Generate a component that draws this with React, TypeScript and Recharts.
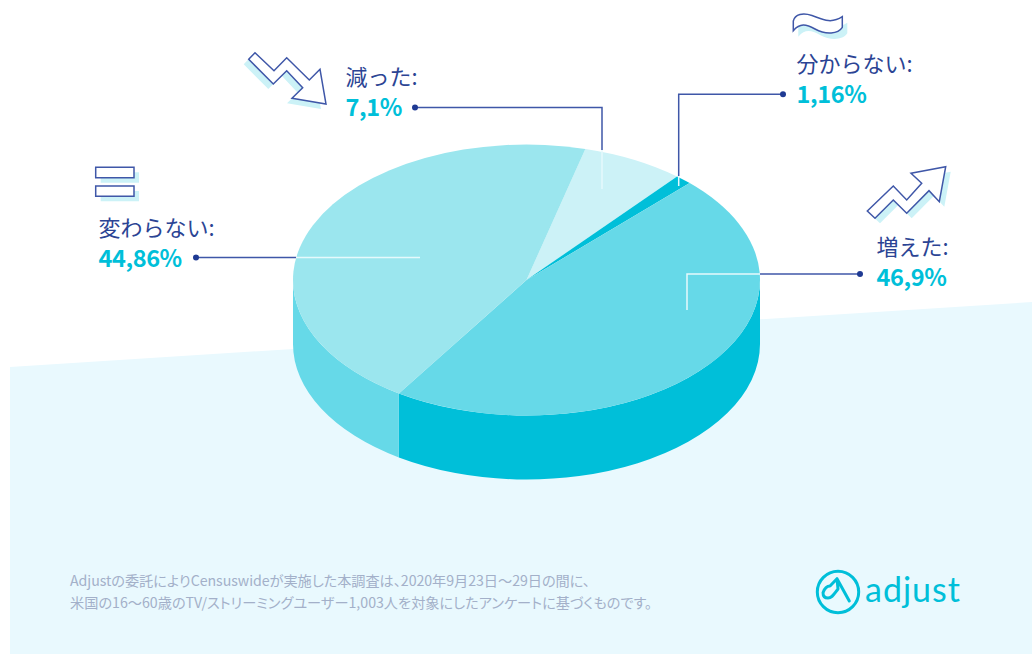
import { PieChart, Pie, Cell } from "recharts";

const names = ["減った", "分からない", "増えた", "変わらない"];
const shares = [7.1, 1.16, 46.9, 44.86];
const topColors = ["#CCF2F7", "#00BFD9", "#66D9E8", "#9BE6EE"];
const wallColors = ["#CCF2F7", "#00BFD9", "#00BFD9", "#66D9E8"];
const footnotes = [
  "Adjustの委託によりCensuswideが実施した本調査は、2020年9月23日〜29日の間に、",
  "米国の16〜60歳のTV/ストリーミングユーザー1,003人を対象にしたアンケートに基づくものです。",
];
const footnoteWidths = [520, 582];

const data = names.map((name, i) => ({ name, value: shares[i] }));

const FONT = '"Noto Sans CJK JP", "Noto Sans", sans-serif';
const NAVY = "#2B4494";
const LINE = "#3F57A8";
const CYAN = "#00BFD9";
const PALE = "#CCF2F7";

// pie is flattened to an ellipse, with a wall hanging under its front half
const SQUASH = 135.5 / 233.5;
const DEPTH = 64;
const RAD = Math.PI / 180;
const START_ANGLE = 75.4;

// eslint-disable-next-line @typescript-eslint/no-explicit-any
function TopSlice({ cx, cy, outerRadius, startAngle, endAngle, fill }: any) {
  const rx = outerRadius;
  const ry = outerRadius * SQUASH;
  const x = (a: number) => cx + rx * Math.cos(a * RAD);
  const y = (a: number) => cy - ry * Math.sin(a * RAD);
  const large = Math.abs(startAngle - endAngle) > 180 ? 1 : 0;
  const d = `M${cx} ${cy}L${x(startAngle)} ${y(startAngle)}A${rx} ${ry} 0 ${large} 1 ${x(endAngle)} ${y(endAngle)}Z`;
  return <path d={d} fill={fill} />;
}

// eslint-disable-next-line @typescript-eslint/no-explicit-any
function WallSlice({ cx, cy, outerRadius, startAngle, endAngle, fill }: any) {
  const hi = Math.min(startAngle, 0);
  const lo = Math.max(endAngle, -180);
  if (hi <= lo) return null;
  const rx = outerRadius;
  const ry = outerRadius * SQUASH;
  const x = (a: number) => cx + rx * Math.cos(a * RAD);
  const y = (a: number) => cy - ry * Math.sin(a * RAD);
  const d =
    `M${x(hi)} ${y(hi)}A${rx} ${ry} 0 0 1 ${x(lo)} ${y(lo)}` +
    `L${x(lo)} ${y(lo) + DEPTH}A${rx} ${ry} 0 0 0 ${x(hi)} ${y(hi) + DEPTH}Z`;
  return <path d={d} fill={fill} />;
}

const percent = (v: number) => `${String(v).replace(".", ",")}%`;

function Callout({ x, y, index }: { x: number; y: number; index: number }) {
  return (
    <g fontFamily={FONT}>
      <text x={x} y={y} fontSize={22} fill={NAVY}>
        {names[index]}:
      </text>
      <text x={x} y={y + 31} fontSize={23.5} fontWeight={700} letterSpacing={-0.4} fill={CYAN}>
        {percent(shares[index])}
      </text>
    </g>
  );
}

function Leader({ dark, light, dot }: { dark: string; light: string; dot: [number, number] }) {
  return (
    <g fill="none">
      <path d={dark} stroke={LINE} strokeWidth={1.5} />
      <path d={light} stroke="#E6F9FC" strokeWidth={1.5} />
      <circle cx={dot[0]} cy={dot[1]} r={3} fill="#1F3A93" />
    </g>
  );
}

function Icon({ d, dx, dy }: { d: string; dx: number; dy: number }) {
  return (
    <g>
      <path d={d} fill={PALE} transform={`translate(${dx} ${dy})`} />
      <path d={d} fill="#fff" stroke={LINE} strokeWidth={1.5} strokeLinejoin="miter" />
    </g>
  );
}

export default function App() {
  return (
    <div style={{ position: "absolute", left: 0, top: 0, width: 1032, height: 654 }}>
      <PieChart width={1032} height={654} margin={{ top: 0, right: 0, bottom: 0, left: 0 }}>
        <polygon points="10,367 1032,302 1032,654 10,654" fill="#E9F9FE" />

        <Pie
          data={data}
          dataKey="value"
          cx={526.5}
          cy={280}
          outerRadius={233.5}
          startAngle={START_ANGLE}
          endAngle={START_ANGLE - 360}
          stroke="none"
          shape={WallSlice}
          isAnimationActive={false}
        >
          {wallColors.map((c, i) => (
            <Cell key={i} fill={c} />
          ))}
        </Pie>
        <Pie
          data={data}
          dataKey="value"
          cx={526.5}
          cy={280}
          outerRadius={233.5}
          startAngle={START_ANGLE}
          endAngle={START_ANGLE - 360}
          stroke="none"
          shape={TopSlice}
          isAnimationActive={false}
        >
          {topColors.map((c, i) => (
            <Cell key={i} fill={c} />
          ))}
        </Pie>
      </PieChart>

      {/* callouts, icons and logo sit above the pie layer */}
      <svg
        width={1032}
        height={654}
        style={{ position: "absolute", left: 0, top: 0, pointerEvents: "none" }}
      >
        <Leader dark="M415 107.5H602V150" light="M602 150V189" dot={[415, 107.5]} />
        <Leader dark="M783 94.3H678.7V176" light="M678.7 176V186" dot={[783, 94.3]} />
        <Leader dark="M860 274H760" light="M760 274H687V310" dot={[860, 274]} />
        <Leader dark="M196 257.5H296" light="M296 257.5H420" dot={[196, 257.5]} />

        <Callout x={345.5} y={85} index={0} />
        <Callout x={796.5} y={72} index={1} />
        <Callout x={876.5} y={255} index={2} />
        <Callout x={98.5} y={236} index={3} />

        <Icon d="M255 52.7L274 70.7L286.7 57.7L309.3 80L320 69.3L326 104L292 98.3L302.7 87.7L286.7 70.7L273.3 84L248.7 59.3Z" dx={-5} dy={5} />
        <Icon d="M867.3 211L893.3 186L906.7 200L921.7 183.3L911 173.3L945.7 166.7L939.3 201.7L929 190.7L906.7 213.3L893.3 200L875 218.3Z" dx={5} dy={5} />
        <Icon d="M793.3 30.7V21C795 14 803 12.5 812 15.5C820 18 830 25 842.3 16.7V27.3C838 34 826 35 815 29C806 24 800 23 793.3 30.7Z" dx={5} dy={6} />
        <Icon d="M95.7 167.3H134V177.7H95.7Z" dx={5} dy={5} />
        <Icon d="M95.7 186H134V196.3H95.7Z" dx={5} dy={5} />

        {footnotes.map((line, i) => (
          <text
            key={i}
            x={70}
            y={585.7 + i * 22}
            fontFamily={FONT}
            fontSize={14.2}
            fill="#A3B0C9"
            textLength={footnoteWidths[i]}
            style={{ fontFeatureSettings: '"palt"' }}
          >
            {line}
          </text>
        ))}

        <g fill="none" stroke={CYAN} strokeLinecap="round" strokeLinejoin="round">
          <circle cx={838} cy={592} r={20.7} strokeWidth={3} />
          <path
            d="M823 592.7C825 587 828 586 830 586L837 578.7L849.3 601M837 578.7L838 589C834 594 832 598 828 598C825 598 823 596 823 592.7"
            strokeWidth={3}
          />
        </g>
        <text x={865} y={602} fontFamily="Lato, sans-serif" fontSize={34} fill={CYAN} letterSpacing={1}>
          adjust
        </text>
      </svg>
    </div>
  );
}
